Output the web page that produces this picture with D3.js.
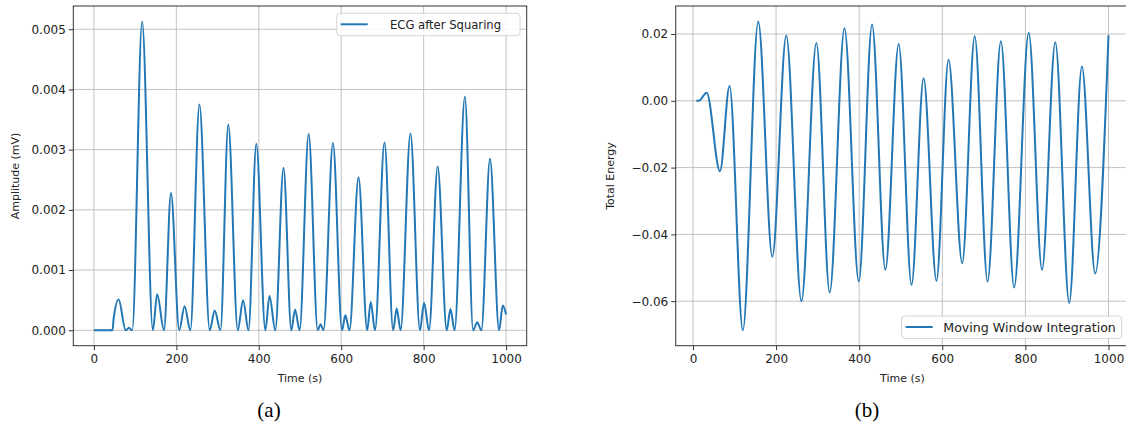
<!DOCTYPE html>
<html>
<head>
<meta charset="utf-8">
<script src="https://cdn.jsdelivr.net/npm/d3@7"></script>
<style>
  body { margin: 0; background: #fff; }
  svg { display: block; }
  text { font-family: "DejaVu Sans", sans-serif; }
</style>
</head>
<body>
<div id="chart"></div>
<script>
// (a) ECG after squaring : peaks, zeros and small bumps
var timeA = [0, 45, 48, 60, 77, 85, 93, 117, 143, 153.5, 170, 187, 207, 220, 234, 256, 281, 293, 307,
  326, 349, 362, 375, 394, 416, 426, 440, 460, 479, 488, 499, 521, 543, 550, 557, 580, 602, 610, 620,
  642, 663, 671.5, 682, 705, 726, 734.6, 744, 768, 791, 801, 813, 834, 856, 865, 875, 900, 920, 930, 940,
  961, 983, 992, 1000];
var ampA = [0, 0, 0.0002, 0.00051, 0, 0.00004, 0, 0.00513, 0, 0.0006, 0, 0.00228, 0, 0.0004, 0, 0.00375, 0, 0.00033, 0,
  0.00342, 0, 0.0005, 0, 0.0031, 0, 0.00057, 0, 0.0027, 0, 0.000345, 0, 0.00326, 0, 0.0001, 0, 0.00311, 0, 0.00025, 0,
  0.00254, 0, 0.00047, 0, 0.00312, 0, 0.00036, 0, 0.00327, 0, 0.000455, 0, 0.00272, 0, 0.000355, 0, 0.00388, 0, 0.000133, 0,
  0.00285, 0, 0.00041, 0.00026];

// (b) moving window integration : extremes
var timeB = [8, 14, 33, 65, 88, 120, 157, 191, 224.5, 261, 297, 329, 364.6, 399, 431, 463, 495, 526, 555,
  586, 615, 648, 678, 709, 741, 773, 808, 840, 872, 905.5, 936, 968, 1000];
var energyB = [0, 0, 0.0024, -0.0211, 0.00444, -0.0687, 0.02376, -0.0467, 0.01953, -0.06, 0.01733, -0.0574, 0.02174, -0.0541,
  0.02285, -0.0506, 0.017, -0.0551, 0.00676, -0.0539, 0.01229, -0.0486, 0.01932, -0.0541, 0.01781, -0.0559,
  0.02035, -0.0506, 0.01751, -0.0605, 0.01026, -0.0517, 0.0196];

var xTicks = [0, 200, 400, 600, 800, 1000];
var yTicksA = [0, 0.001, 0.002, 0.003, 0.004, 0.005];
var yTicksB = [-0.06, -0.04, -0.02, 0, 0.02];

var W = 1126, H = 425;
var svg = d3.select("#chart").append("svg")
    .attr("width", W).attr("height", H);

function pad(ext) {
    var m = (ext[1] - ext[0]) * 0.05;
    return [ext[0] - m, ext[1] + m];
}

function panel(p) {
    var g = svg.append("g");
    var x = d3.scaleLinear().domain(pad(d3.extent(p.xs))).range([p.left, p.left + 453.4]);
    var y = d3.scaleLinear().domain(pad(d3.extent(p.ys))).range([345.7, 6]);

    // grid
    g.selectAll(".gx").data(xTicks).enter().append("line")
        .attr("x1", function(d){ return x(d); }).attr("x2", function(d){ return x(d); })
        .attr("y1", 6).attr("y2", 345.7)
        .attr("stroke", "#c2c2c2").attr("stroke-width", 1);
    g.selectAll(".gy").data(p.yTicks).enter().append("line")
        .attr("x1", x.range()[0]).attr("x2", x.range()[1])
        .attr("y1", function(d){ return y(d); }).attr("y2", function(d){ return y(d); })
        .attr("stroke", "#c2c2c2").attr("stroke-width", 1);

    // line
    var line = d3.line()
        .x(function(d, i){ return x(p.xs[i]); })
        .y(function(d){ return y(d); })
        .curve(d3.curveMonotoneX);
    g.append("path").datum(p.ys)
        .attr("d", line)
        .attr("fill", "none")
        .attr("stroke", "#2277b4")
        .attr("stroke-width", 2);

    // axes
    var xa = g.append("g").attr("transform", "translate(0,345.7)")
        .call(d3.axisBottom(x).tickValues(xTicks).tickSize(4.5).tickPadding(4).tickFormat(d3.format("d")));
    var ya = g.append("g").attr("transform", "translate(" + p.left + ",0)")
        .call(d3.axisLeft(y).tickValues(p.yTicks).tickSize(4.5).tickPadding(3).tickFormat(p.fmt));
    [xa, ya].forEach(function(a){
        a.select(".domain").remove();
        a.selectAll("line").attr("stroke", "#333");
        a.selectAll("text").attr("fill", "#222").style("font-size", "12px")
            .style("font-family", "DejaVu Sans, sans-serif");
    });

    // frame
    g.append("rect")
        .attr("x", x.range()[0]).attr("y", 6)
        .attr("width", x.range()[1] - x.range()[0]).attr("height", 339.7)
        .attr("fill", "none").attr("stroke", "#333").attr("stroke-width", 1);

    // labels
    g.append("text").attr("x", (x.range()[0] + x.range()[1]) / 2).attr("y", 382)
        .attr("text-anchor", "middle").style("font-size", "11px").attr("fill", "#222")
        .text("Time (s)");
    g.append("text").attr("transform", "translate(" + p.ylabX + ",176) rotate(-90)")
        .attr("text-anchor", "middle").style("font-size", "11px").attr("fill", "#222")
        .text(p.ylabel);

    // legend
    var lg = g.append("g");
    lg.append("rect").attr("x", p.leg[0]).attr("y", p.leg[1])
        .attr("width", p.leg[2]).attr("height", 22.4).attr("rx", 3)
        .attr("fill", "#fff").attr("fill-opacity", 0.85)
        .attr("stroke", "#d4d4d4").attr("stroke-width", 1);
    lg.append("line").attr("x1", p.leg[0] + 4).attr("x2", p.leg[0] + 31)
        .attr("y1", p.leg[1] + 11).attr("y2", p.leg[1] + 11)
        .attr("stroke", "#2277b4").attr("stroke-width", 2);
    lg.append("text").attr("x", p.legText).attr("y", p.leg[1] + 15.5)
        .style("font-size", p.legFont).attr("fill", "#222")
        .text(p.legend);

    // caption
    svg.append("text").attr("x", p.cap).attr("y", 417)
        .attr("text-anchor", "middle")
        .style("font-family", "Liberation Serif, Times New Roman, serif")
        .style("font-size", "21px").attr("fill", "#000")
        .text(p.caption);
}

panel({
    xs: timeA, ys: ampA, yTicks: yTicksA, left: 73.3,
    fmt: d3.format(".3f"), ylabel: "Amplitude (mV)", ylabX: 19,
    leg: [336.7, 13.3, 183.3], legText: 390, legFont: "11.6px", legend: "ECG after Squaring",
    cap: 269, caption: "(a)"
});
panel({
    xs: timeB, ys: energyB, yTicks: yTicksB, left: 675.7,
    fmt: d3.format(".2f"), ylabel: "Total Energy", ylabX: 614,
    leg: [901.7, 316, 220], legText: 943.3, legFont: "12.6px", legend: "Moving Window Integration",
    cap: 867, caption: "(b)"
});
</script>
</body>
</html>
